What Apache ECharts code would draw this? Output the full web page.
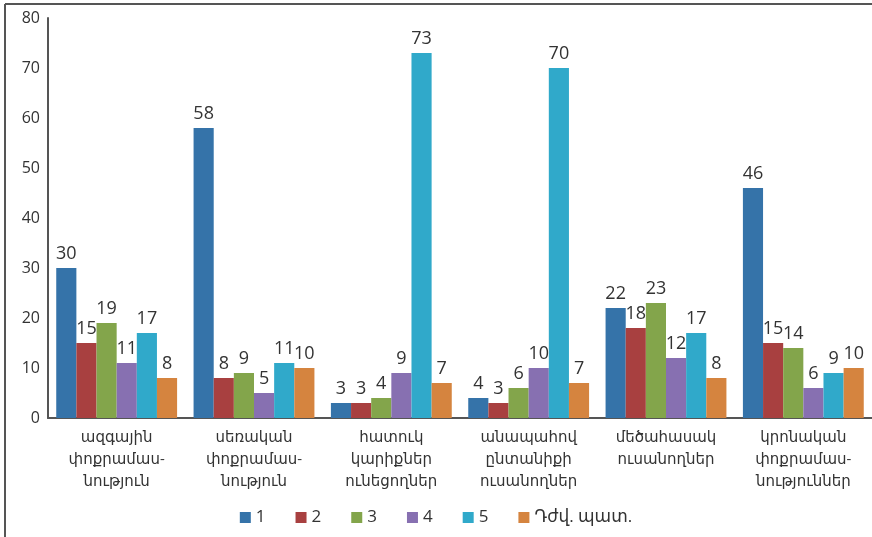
<!DOCTYPE html>
<html>
<head>
<meta charset="utf-8">
<script src="https://cdn.jsdelivr.net/npm/echarts@6/dist/echarts.min.js"></script>
<style>
  html, body { margin: 0; padding: 0; background: #fff; }
  #chart { width: 872px; height: 537px; }
</style>
</head>
<body>
<div id="chart"></div>
<script>
const categories = [
  'ազգային\nփոքրամաս-\nնություն',
  'սեռական\nփոքրամաս-\nնություն',
  'հատուկ\nկարիքներ\nունեցողներ',
  'անապահով\nընտանիքի\nուսանողներ',
  'մեծահասակ\nուսանողներ',
  'կրոնական\nփոքրամաս-\nնություններ'
]
const seriesNames = ['1', '2', '3', '4', '5', 'Դժվ. պատ.']
const s1 = [30, 58, 3, 4, 22, 46]
const s2 = [15, 8, 3, 3, 18, 15]
const s3 = [19, 9, 4, 6, 23, 14]
const s4 = [11, 5, 9, 10, 12, 6]
const s5 = [17, 11, 73, 70, 17, 9]
const s6 = [8, 10, 7, 7, 8, 10]
const yTicks = [0, 10, 20, 30, 40, 50, 60, 70, 80]

const colors = ['#3573a9', '#a84040', '#83a54b', '#8770b1', '#30a9ca', '#d5843f']
const font = '"Open Sans", "DejaVu Sans", sans-serif'
const values = [s1, s2, s3, s4, s5, s6]

const chart = echarts.init(document.getElementById('chart'))

chart.setOption({
  animation: false,
  color: colors,
  textStyle: { fontFamily: font },
  graphic: [
    { type: 'line', shape: { x1: 5, y1: 4, x2: 872, y2: 4 }, style: { stroke: '#555', lineWidth: 2 } },
    { type: 'line', shape: { x1: 5, y1: 4, x2: 5, y2: 537 }, style: { stroke: '#555', lineWidth: 2 } }
  ],
  legend: {
    data: seriesNames,
    bottom: 6,
    left: 'center',
    icon: 'rect',
    itemWidth: 11,
    itemHeight: 11,
    itemGap: 30,
    textStyle: { color: '#333', fontSize: 17, fontFamily: font }
  },
  grid: { left: 48, right: 0, top: 18, bottom: 119, containLabel: false },
  xAxis: {
    type: 'category',
    data: categories,
    axisLine: { lineStyle: { color: '#555', width: 2 } },
    axisTick: { show: false },
    axisLabel: { color: '#333', fontSize: 15, lineHeight: 22, margin: 9, interval: 0 }
  },
  yAxis: {
    type: 'value',
    min: yTicks[0],
    max: yTicks[yTicks.length - 1],
    interval: 10,
    splitLine: { show: false },
    axisLine: { show: true, lineStyle: { color: '#555', width: 2 } },
    axisTick: { show: false },
    axisLabel: { color: '#333', fontSize: 16, margin: 8 }
  },
  series: values.map((v, i) => ({
    name: seriesNames[i],
    type: 'bar',
    data: v,
    barGap: '0%',
    barCategoryGap: '12%',
    itemStyle: { color: colors[i] },
    label: { show: true, position: 'top', distance: 5, color: '#333', fontSize: 18, fontFamily: font }
  }))
})
</script>
</body>
</html>
